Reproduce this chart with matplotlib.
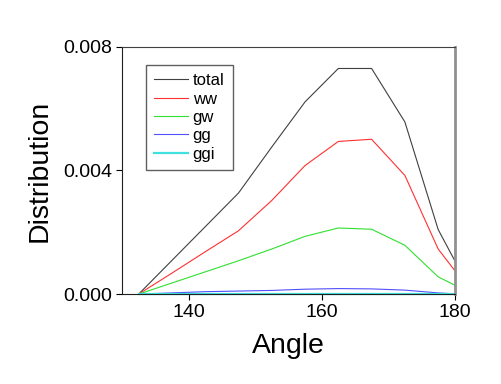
import matplotlib
matplotlib.use("Agg")
import matplotlib.pyplot as plt

plt.rcParams['font.family'] = ['Liberation Sans', 'DejaVu Sans']

angle = [132.5, 137.5, 142.5, 147.5, 152.5, 157.5, 162.5, 167.5, 172.5, 177.5, 180.0]
total = [0.0, 0.00109, 0.00218, 0.00327, 0.00476, 0.00622, 0.00730, 0.00730, 0.00557, 0.00209, 0.00108]
ww = [0.0, 0.00068, 0.00137, 0.00205, 0.00303, 0.00416, 0.00494, 0.00501, 0.00384, 0.00146, 0.00076]
gw = [0.0, 0.00036, 0.00072, 0.00108, 0.00146, 0.00187, 0.00214, 0.00210, 0.00158, 0.00056, 0.00029]
gg = [0.0, 0.00004, 0.00008, 0.00010, 0.00012, 0.00016, 0.00018, 0.00017, 0.00013, 0.00004, 0.00001]
ggi = [0.0, 0.0, 0.0, 0.0, 0.0, 0.0, 0.0, 0.0, 0.0, 0.0, 0.0]

series = [("total", total, "#404040"), ("ww", ww, "#ff3030"),
          ("gw", gw, "#30e030"), ("gg", gg, "#5050ff"), ("ggi", ggi, "#40e0e0")]

fig = plt.figure(figsize=(5.02, 3.84), dpi=100)
ax = fig.add_axes([0.243, 0.234, 0.663, 0.644])

for name, vals, col in series:
    lw = 1.6 if name == "ggi" else 0.8
    ax.plot(angle, vals, color=col, lw=lw, label=name, clip_on=False)

ax.set_xlim(130, 180)
ax.set_ylim(0, 0.008)
ax.set_xticks([140, 160, 180])
ax.set_yticks([0.0, 0.004, 0.008])
ax.set_yticklabels(["0.000", "0.004", "0.008"])
ax.tick_params(direction='out', length=4, width=0.8, labelsize=14, pad=3)

for s in ['left', 'bottom']:
    ax.spines[s].set_color('#202020')
    ax.spines[s].set_linewidth(0.8)
ax.spines['right'].set_color('#909090')
ax.spines['right'].set_linewidth(2)
ax.spines['top'].set_color('#404040')
ax.spines['top'].set_linewidth(0.8)

ax.set_xlabel("Angle", fontsize=20.5, labelpad=9)
ax.set_ylabel("Distribution", fontsize=20.5, labelpad=8)

leg = ax.legend(loc='upper left', bbox_to_anchor=(0.072, 0.927), borderaxespad=0,
                fontsize=12, fancybox=False, framealpha=1, handlelength=2.0,
                handletextpad=0.3, labelspacing=0.2, borderpad=0.5)
leg.get_frame().set_edgecolor('#606060')
leg.get_frame().set_linewidth(1.0)

fig.savefig("out.png", dpi=100)
